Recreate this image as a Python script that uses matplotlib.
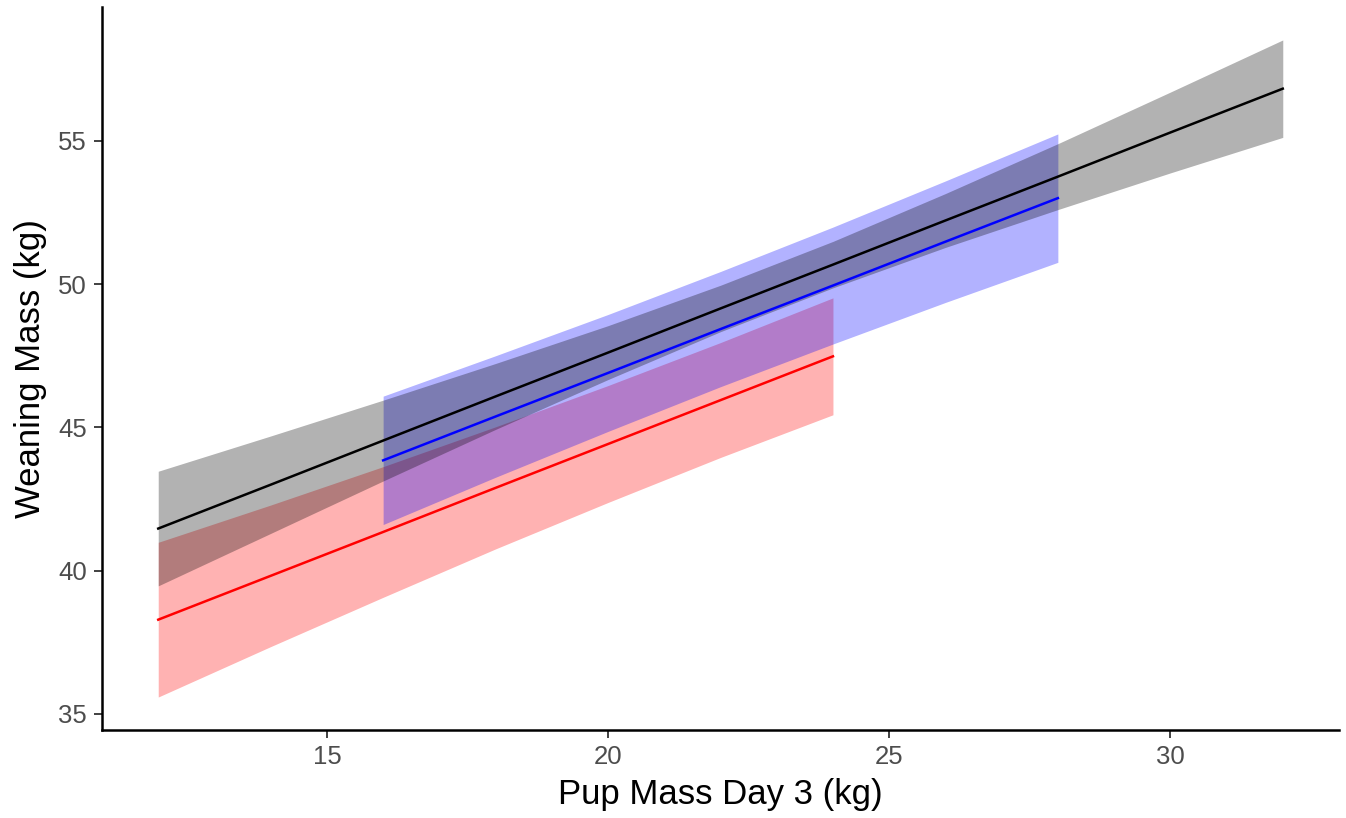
import numpy as np
import matplotlib
matplotlib.use("Agg")
import matplotlib.pyplot as plt

plt.rcParams['font.family'] = ['Liberation Sans', 'DejaVu Sans']

# overall fit (black) with confidence band
all_x = [12, 14, 16, 18, 20, 22, 24, 26, 28, 30, 32]
all_fit = [41.47, 43.00, 44.54, 46.08, 47.61, 49.15, 50.68, 52.22, 53.75, 55.29, 56.82]
all_lo = [39.47, 41.30, 43.13, 44.93, 46.67, 48.34, 49.87, 51.28, 52.60, 53.88, 55.12]
all_hi = [43.47, 44.70, 45.95, 47.23, 48.55, 49.96, 51.49, 53.16, 54.90, 56.70, 58.52]

# blue group
blue_x = [16, 18, 20, 22, 24, 26, 28]
blue_fit = [43.85, 45.38, 46.90, 48.43, 49.95, 51.48, 53.00]
blue_lo = [41.61, 43.26, 44.86, 46.42, 47.91, 49.36, 50.76]
blue_hi = [46.09, 47.50, 48.94, 50.44, 51.99, 53.60, 55.24]

# red group
red_x = [12, 14, 16, 18, 20, 22, 24]
red_fit = [38.29, 39.82, 41.35, 42.89, 44.42, 45.95, 47.48]
red_lo = [35.59, 37.35, 39.07, 40.76, 42.38, 43.95, 45.44]
red_hi = [40.99, 42.29, 43.63, 45.02, 46.46, 47.96, 49.52]

fig = plt.figure(figsize=(13.46, 8.18), dpi=100)
ax = fig.add_axes([102 / 1346, 1 - 730 / 818, (1339 - 102) / 1346, (730 - 7) / 818])

lw = 1.8
ax.fill_between(red_x, red_lo, red_hi, color='red', alpha=0.3, linewidth=0)
ax.plot(red_x, red_fit, color='red', lw=lw)
ax.fill_between(blue_x, blue_lo, blue_hi, color='blue', alpha=0.3, linewidth=0)
ax.plot(blue_x, blue_fit, color='blue', lw=lw)
ax.fill_between(all_x, all_lo, all_hi, color='black', alpha=0.3, linewidth=0)
ax.plot(all_x, all_fit, color='black', lw=lw)

ax.set_xlim(11, 33)
ax.set_ylim(34.44, 59.67)
ax.set_xticks([15, 20, 25, 30])
ax.set_yticks([35, 40, 45, 50, 55])

for s in ['top', 'right']:
    ax.spines[s].set_visible(False)
for s in ['left', 'bottom']:
    ax.spines[s].set_linewidth(1.8)
ax.tick_params(axis='both', length=6, width=1.3, color='#333333',
               labelcolor='#4d4d4d', labelsize=18.5, pad=5)

ax.set_xlabel('Pup Mass Day 3 (kg)', fontsize=25, color='black', labelpad=6)
ax.set_ylabel('Weaning Mass (kg)', fontsize=25, color='black', labelpad=8)

fig.savefig('out.png', dpi=100)
